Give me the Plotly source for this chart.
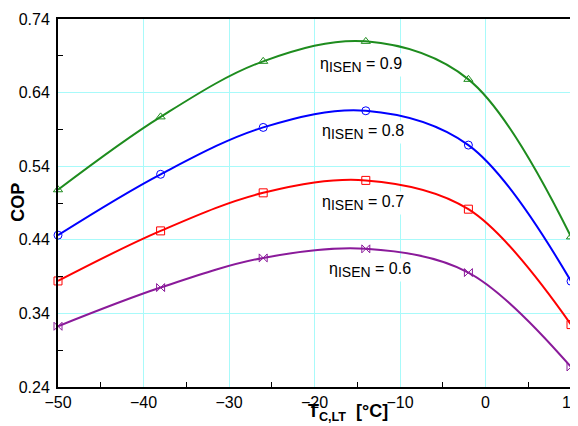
import plotly.graph_objects as go

t_c = [-50, -38, -26, -14, -2, 10]
cop_09 = [0.508, 0.607, 0.6825, 0.7096, 0.658, 0.444]
cop_08 = [0.4463, 0.529, 0.5927, 0.6153, 0.5687, 0.3837]
cop_07 = [0.3841, 0.4521, 0.5038, 0.5207, 0.4816, 0.3248]
cop_06 = [0.3225, 0.3751, 0.4154, 0.4277, 0.3955, 0.2672]

series = [
    ("0.9", cop_09, "#1e8c1e", "triangle-up-open"),
    ("0.8", cop_08, "#0000ff", "circle-open"),
    ("0.7", cop_07, "#ff0000", "square-open"),
    ("0.6", cop_06, "#8a1a9a", "bowtie-open"),
]
label_pos = {"0.9": (-14.6, 0.6775), "0.8": (-14.3, 0.5863),
             "0.7": (-14.3, 0.4898), "0.6": (-13.5, 0.3987)}

FONT = "Liberation Sans, Arial"

fig = go.Figure()
for name, ys, col, sym in series:
    fig.add_trace(go.Scatter(
        x=t_c, y=ys, mode="lines+markers",
        line=dict(color=col, width=2, shape="spline", smoothing=1.0),
        marker=dict(symbol=sym, size=8, color=col, line=dict(width=1, color=col)),
        showlegend=False, cliponaxis=False))
    lx, ly = label_pos[name]
    fig.add_annotation(x=lx, y=ly, xref="x", yref="y",
                       text=f"η<sub><span style='font-size:14px'>ISEN</span></sub> = {name}",
                       showarrow=False,
                       font=dict(family=FONT, size=16, color="black"),
                       bgcolor="white")

axis_common = dict(
    showline=True, linecolor="black", linewidth=2, mirror=True,
    showgrid=True, gridcolor="#a8fafa", gridwidth=1,
    ticks="", zeroline=False, automargin=False, ticklabeloverflow="allow",
    tickfont=dict(family=FONT, size=16, color="black"),
)
fig.update_xaxes(range=[-50, 10], tick0=-50, dtick=10,
                 minor=dict(ticks="inside", ticklen=5, tickcolor="black", dtick=5, tick0=-50, showgrid=False),
                 ticklabelstandoff=0, **axis_common)
fig.update_yaxes(range=[0.24, 0.74], tick0=0.24, dtick=0.1, tickformat=".2f",
                 minor=dict(ticks="inside", ticklen=5, tickcolor="black", dtick=0.05, tick0=0.24, showgrid=False),
                 ticklabelstandoff=3, **axis_common)

fig.add_annotation(x=0.566, y=-0.069, xref="paper", yref="paper",
                   xanchor="center", yanchor="middle",
                   text="<b>T<sub>C,LT</sub>&nbsp;&nbsp;[°C]</b>", showarrow=False,
                   font=dict(family=FONT, size=18, color="black"))
fig.add_annotation(x=-0.077, y=0.502, xref="paper", yref="paper",
                   xanchor="center", yanchor="middle",
                   text="<b>COP</b>", showarrow=False, textangle=-90,
                   font=dict(family=FONT, size=18, color="black"))

# page body has an 8px margin; compensate so the plot area lands where the reference has it
fig.update_layout(
    width=570, height=418,
    margin=dict(l=49.5, r=7, t=11, b=39.3),
    paper_bgcolor="white", plot_bgcolor="white",
)
fig.write_html("out.html")
